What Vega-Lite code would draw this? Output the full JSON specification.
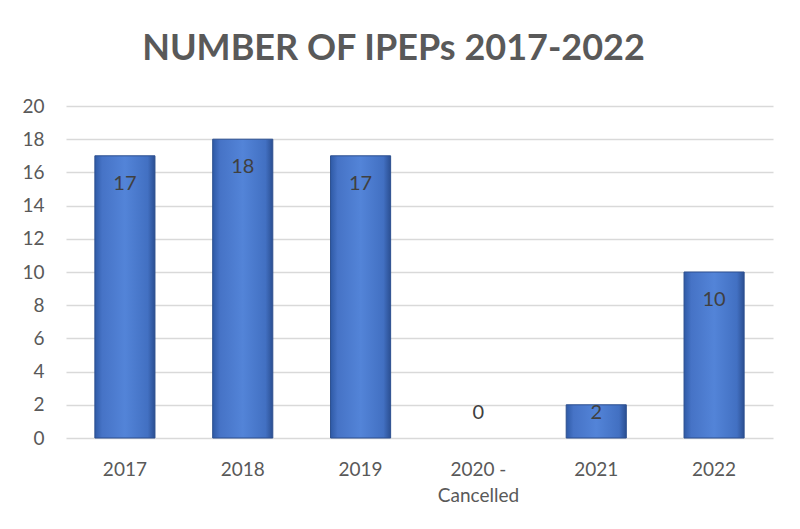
{
  "$schema": "https://vega.github.io/schema/vega-lite/v6.json",
  "autosize": "none",
  "width": 707,
  "height": 332,
  "padding": {"left": 66, "top": 106, "right": 27, "bottom": 91},
  "background": "white",
  "title": {
    "text": "NUMBER OF IPEPs 2017-2022",
    "font": "Lato",
    "fontSize": 36,
    "fontWeight": "bold",
    "color": "#595959",
    "anchor": "middle",
    "baseline": "alphabetic",
    "offset": 43,
    "dy": 42,
    "dx": -26
  },
  "data": {
    "values": [
      {"year": "2017", "count": 17},
      {"year": "2018", "count": 18},
      {"year": "2019", "count": 17},
      {"year": "2020 - Cancelled", "count": 0},
      {"year": "2021", "count": 2},
      {"year": "2022", "count": 10}
    ]
  },
  "encoding": {
    "x": {
      "field": "year",
      "type": "nominal",
      "sort": null,
      "scale": {
        "domain": ["2017", "2018", "2019", "2020 - Cancelled", "2021", "2022"],
        "paddingInner": 0.49,
        "paddingOuter": 0.245
      },
      "axis": {
        "title": null,
        "labelAngle": 0,
        "ticks": false,
        "domain": false,
        "labelFont": "Lato",
        "labelFontSize": 19,
        "labelColor": "#595959",
        "labelPadding": 22,
        "labelLineHeight": 26,
        "labelExpr": "datum.label == '2020 - Cancelled' ? ['2020 -', 'Cancelled'] : datum.label"
      }
    }
  },
  "layer": [
    {
      "transform": [{"filter": "datum.count > 0"}],
      "mark": {
        "type": "bar",
        "stroke": "#2c4f8f",
        "strokeWidth": 1,
        "color": {
          "gradient": "linear",
          "x1": 0, "y1": 0, "x2": 1, "y2": 0,
          "stops": [
            {"offset": 0, "color": "#2f5aa6"},
            {"offset": 0.12, "color": "#4673c6"},
            {"offset": 0.5, "color": "#5384d8"},
            {"offset": 0.88, "color": "#4270c2"},
            {"offset": 1, "color": "#2b4f92"}
          ]
        }
      },
      "encoding": {
        "y": {
          "field": "count",
          "type": "quantitative",
          "scale": {"domain": [0, 20]},
          "axis": {
            "title": null,
            "values": [0, 2, 4, 6, 8, 10, 12, 14, 16, 18, 20],
            "labelOverlap": false,
            "ticks": false,
            "domain": false,
            "gridColor": "#d9d9d9",
            "gridWidth": 1.3,
            "labelFont": "Lato",
            "labelFontSize": 19,
            "labelColor": "#595959",
            "labelPadding": 22
          }
        }
      }
    },
    {
      "transform": [{"filter": "datum.count >= 5"}],
      "mark": {"type": "text", "font": "Lato", "fontSize": 20, "color": "#404040", "baseline": "top", "dy": 18},
      "encoding": {
        "y": {
          "field": "count",
          "type": "quantitative",
          "axis": {"values": [0, 2, 4, 6, 8, 10, 12, 14, 16, 18, 20], "labelOverlap": false}
        },
        "text": {"field": "count", "type": "quantitative"}
      }
    },
    {
      "transform": [{"filter": "datum.count < 5"}],
      "mark": {"type": "text", "font": "Lato", "fontSize": 20, "color": "#404040", "baseline": "top", "dy": -2},
      "encoding": {
        "y": {
          "datum": 2,
          "type": "quantitative",
          "axis": {"values": [0, 2, 4, 6, 8, 10, 12, 14, 16, 18, 20], "labelOverlap": false}
        },
        "text": {"field": "count", "type": "quantitative"}
      }
    }
  ],
  "config": {"view": {"stroke": null}}
}
